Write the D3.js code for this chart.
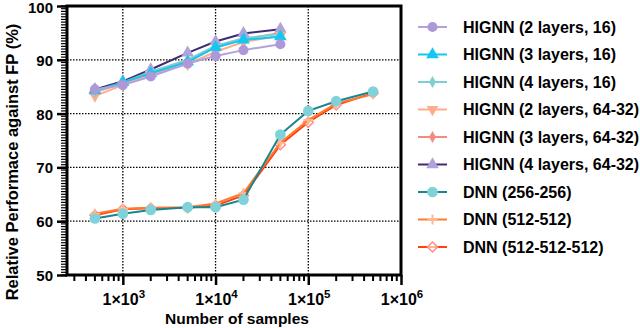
<!DOCTYPE html>
<html>
  <head>
    <meta charset="utf-8">
    <script src="https://d3js.org/d3.v7.min.js"></script>
    <style>
      body { margin: 0; background: #fff; }
      text { font-family: "Liberation Sans", Arial, sans-serif; font-weight: bold; fill: #000; }
    </style>
  </head>
  <body>
    <div id="chart"></div>
    <script>
      // sample sizes (x) for the two families
      const samplesHignn = [500, 1000, 2000, 5000, 10000, 20000, 50000];
      const samplesDnn = [500, 1000, 2000, 5000, 10000, 20000, 50000, 100000, 200000, 500000];

      const seriesNames = [
        "HIGNN (2 layers, 16)", "HIGNN (3 layers, 16)", "HIGNN (4 layers, 16)",
        "HIGNN (2 layers, 64-32)", "HIGNN (3 layers, 64-32)", "HIGNN (4 layers, 64-32)",
        "DNN (256-256)", "DNN (512-512)", "DNN (512-512-512)"
      ];

      const hignn2L16 = [84.5, 85.3, 86.9, 89.3, 90.7, 91.8, 92.9];
      const hignn3L16 = [84.3, 85.8, 87.5, 89.6, 92.3, 93.7, 94.3];
      const hignn4L16 = [84.0, 85.8, 87.8, 90.0, 92.6, 94.0, 94.8];
      const hignn2L64 = [83.3, 85.3, 87.3, 89.2, 91.5, 93.3, 94.5];
      const hignn3L64 = [84.0, 85.6, 87.6, 89.8, 92.3, 93.8, 95.0];
      const hignn4L64 = [84.5, 86.0, 88.2, 91.3, 93.4, 94.9, 95.7];
      const dnn256 = [60.5, 61.4, 62.1, 62.6, 62.6, 64.0, 76.1, 80.5, 82.3, 84.1];
      const dnn512 = [61.4, 62.3, 62.5, 62.6, 63.3, 65.2, 74.6, 78.8, 81.9, 83.6];
      const dnn512x3 = [61.1, 62.2, 62.4, 62.5, 62.9, 64.8, 74.2, 78.4, 81.6, 83.8];

      const xTicks = [1e3, 1e4, 1e5, 1e6];
      const yTicks = [50, 60, 70, 80, 90, 100];

      const series = [
        { name: seriesNames[0], x: samplesHignn, y: hignn2L16, line: "#b3a0dc", fill: "#ad98d8", sym: "circle", size: 80 },
        { name: seriesNames[1], x: samplesHignn, y: hignn3L16, line: "#14c6f2", fill: "#14c6f2", sym: "triangle", size: 70 },
        { name: seriesNames[2], x: samplesHignn, y: hignn4L16, line: "#7fcfd2", fill: "#7fcfd2", sym: "diamond", size: 40 },
        { name: seriesNames[3], x: samplesHignn, y: hignn2L64, line: "#ffad8c", fill: "#ffad8c", sym: "down", size: 60 },
        { name: seriesNames[4], x: samplesHignn, y: hignn3L64, line: "#f58a7e", fill: "#f58a7e", sym: "diamond", size: 40 },
        { name: seriesNames[5], x: samplesHignn, y: hignn4L64, line: "#402a70", fill: "#b2a2dc", sym: "triangle", size: 70 },
        { name: seriesNames[6], x: samplesDnn, y: dnn256, line: "#17868e", fill: "#7fd2da", sym: "circle", size: 90 },
        { name: seriesNames[7], x: samplesDnn, y: dnn512, line: "#ff7a2e", fill: "#ffb896", sym: "plus", size: 0 },
        { name: seriesNames[8], x: samplesDnn, y: dnn512x3, line: "#ff4010", fill: "none", sym: "opendiamond", size: 0 }
      ];

      const W = 640, H = 328;
      const L = 67, R = 401, T = 6, B = 275;

      const svg = d3.select("#chart").append("svg")
        .attr("width", W).attr("height", H);

      const x = d3.scaleLog().domain([250, 1e6]).range([L, R]);
      const y = d3.scaleLinear().domain([50, 100]).range([B, T]);

      // dotted grid
      svg.append("g").selectAll("line")
        .data(xTicks.slice(0, 3))
        .enter().append("line")
        .attr("x1", d => x(d)).attr("x2", d => x(d))
        .attr("y1", T).attr("y2", B)
        .attr("stroke", "#000").attr("stroke-width", 1.3).attr("stroke-dasharray", "1.5,1.5");
      svg.append("g").selectAll("line")
        .data(yTicks.slice(1, 5))
        .enter().append("line")
        .attr("x1", L).attr("x2", R)
        .attr("y1", d => y(d)).attr("y2", d => y(d))
        .attr("stroke", "#000").attr("stroke-width", 1.3).attr("stroke-dasharray", "1.5,1.5");

      // minor ticks
      const minorX = [];
      for (let e = 2; e < 6; e++) {
        for (let m = 2; m <= 9; m++) {
          const v = m * Math.pow(10, e);
          if (v > 250 && v < 1e6) minorX.push(v);
        }
      }
      svg.append("g").selectAll("line").data(minorX).enter().append("line")
        .attr("x1", d => x(d)).attr("x2", d => x(d))
        .attr("y1", B).attr("y2", B + 6)
        .attr("stroke", "#000").attr("stroke-width", 2);

      const minorY = d3.range(50, 100.01, 0.5);
      svg.append("g").selectAll("line").data(minorY).enter().append("line")
        .attr("x1", L - 6).attr("x2", L)
        .attr("y1", d => y(d)).attr("y2", d => y(d))
        .attr("stroke", "#000").attr("stroke-width", 1.2);

      // major axes
      const xAxis = svg.append("g")
        .attr("transform", `translate(0,${B})`)
        .call(d3.axisBottom(x).tickValues(xTicks).tickSize(10).tickFormat(""));
      xAxis.select(".domain").remove();
      xAxis.selectAll(".tick line").attr("stroke-width", 2.5);

      const yAxis = svg.append("g")
        .attr("transform", `translate(${L},0)`)
        .call(d3.axisLeft(y).tickValues(yTicks).tickSize(10).tickPadding(4));
      yAxis.select(".domain").remove();
      yAxis.selectAll(".tick line").attr("stroke-width", 2.5);
      yAxis.selectAll(".tick text")
        .style("font-size", "15px").attr("dy", d => d === 100 ? "0.42em" : "0.36em");

      // x tick labels with superscripts
      const xl = svg.append("g").selectAll("text").data(xTicks).enter().append("text")
        .attr("x", d => x(d) + 1).attr("y", B + 30)
        .attr("text-anchor", "middle")
        .style("font-size", "16px");
      xl.append("tspan").text("1×10");
      xl.append("tspan").text(d => Math.round(Math.log10(d)))
        .attr("dy", -7).style("font-size", "11.5px");

      // frame
      svg.append("rect")
        .attr("x", L).attr("y", T).attr("width", R - L).attr("height", B - T)
        .attr("fill", "none").attr("stroke", "#000").attr("stroke-width", 3);

      // axis titles
      svg.append("text")
        .attr("x", 237).attr("y", 324)
        .attr("text-anchor", "middle").style("font-size", "15.5px")
        .text("Number of samples");
      svg.append("text")
        .attr("transform", "translate(18,162) rotate(-90)")
        .attr("text-anchor", "middle").style("font-size", "16.5px")
        .text("Relative Performace against FP (%)");

      // marker drawing
      function marker(g, s, cx, cy) {
        if (s.sym === "plus") {
          g.append("path")
            .attr("d", `M${cx - 5},${cy}H${cx + 5}M${cx},${cy - 5}V${cy + 5}`)
            .attr("stroke", s.fill).attr("stroke-width", 2);
        } else if (s.sym === "opendiamond") {
          g.append("path")
            .attr("d", `M${cx},${cy - 5}L${cx + 5},${cy}L${cx},${cy + 5}L${cx - 5},${cy}Z`)
            .attr("fill", "#fff").attr("fill-opacity", 0.6)
            .attr("stroke", "#ff8f80").attr("stroke-width", 1.5);
        } else if (s.sym === "down") {
          g.append("path")
            .attr("d", d3.symbol(d3.symbolTriangle, s.size)())
            .attr("transform", `translate(${cx},${cy}) rotate(180)`)
            .attr("fill", s.fill);
        } else {
          const t = s.sym === "circle" ? d3.symbolCircle
            : s.sym === "triangle" ? d3.symbolTriangle : d3.symbolDiamond;
          g.append("path")
            .attr("d", d3.symbol(t, s.size)())
            .attr("transform", `translate(${cx},${cy})`)
            .attr("fill", s.fill);
        }
      }

      const line = d3.line().x(d => x(d[0])).y(d => y(d[1]));

      // draw in reverse so the first series sits on top
      series.slice().reverse().forEach(s => {
        const pts = s.x.map((v, i) => [v, s.y[i]]);
        const g = svg.append("g");
        g.append("path").datum(pts)
          .attr("d", line)
          .attr("fill", "none").attr("stroke", s.line).attr("stroke-width", 2);
        pts.forEach(p => marker(g, s, x(p[0]), y(p[1])));
      });

      // legend
      const rowH = 27.5;
      series.forEach((s, i) => {
        const cy = 27 + i * rowH;
        const g = svg.append("g");
        g.append("line")
          .attr("x1", 418).attr("x2", 447).attr("y1", cy).attr("y2", cy)
          .attr("stroke", s.line).attr("stroke-width", 2);
        marker(g, s, 432.5, cy);
        g.append("text")
          .attr("x", 463).attr("y", cy + 5.5)
          .style("font-size", "16px")
          .text(s.name);
      });
    </script>
  </body>
</html>
